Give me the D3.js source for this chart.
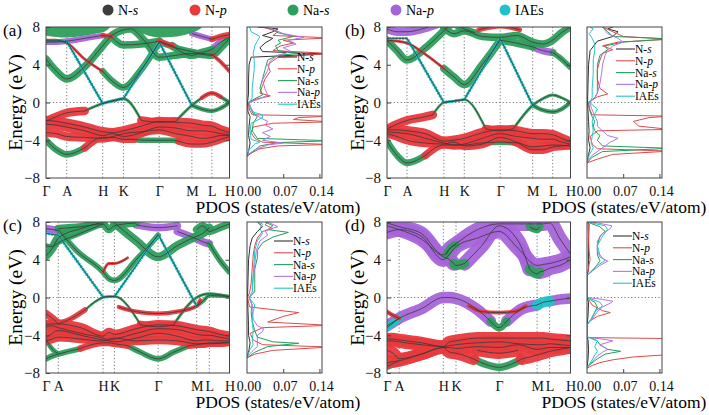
<!DOCTYPE html>
<html lang="en">
<head>
<meta charset="UTF-8">
<title>Band structures and PDOS</title>
<script src="https://cdnjs.cloudflare.com/ajax/libs/d3/7.8.5/d3.min.js"></script>
<style>
  body { margin: 0; background: #fff; }
  svg, svg text { font-family: "Liberation Serif"; font-weight: normal; }
</style>
</head>
<body>
<svg id="fig" width="709" height="415"></svg>
<script>
// orbital channels, in legend order
const orbitals = ['N-s', 'N-p', 'Na-s', 'Na-p', 'IAEs'];
const kLabels = ['Γ', 'A', 'H', 'K', 'Γ', 'M', 'L', 'H'];
const energyTicks = [8, 4, 0, -4, -8];
const pdosTicks = [0, 0.07, 0.14];

// high-symmetry points along the path (fraction of path length)
const kPathA = [0, 0.113, 0.309, 0.422, 0.617, 0.795, 0.904, 1];
const kPathB = [0, 0.109, 0.310, 0.421, 0.617, 0.794, 0.903, 1];
const kPathC = [0, 0.067, 0.311, 0.373, 0.611, 0.821, 0.890, 1];
const kPathD = [0, 0.066, 0.307, 0.376, 0.611, 0.818, 0.886, 1];

// band pieces: [orbital index, projection weight, [[k index, E (eV)], ...]]
const bandsA = [
  [4, 0.25, [[0,6.5],[1,6.5],[2,-0.1],[3,0.4],[4,6.4],[5,-0.3]]],
  [2, 0.45, [[5,-0.3],[5.5,-0.7],[6,-0.9],[6.5,-0.6],[7,0.0]]],
  [1, 0.9, [[0,-2.0],[0.5,-1.5],[1,-1.1],[1.5,-0.9]]],
  [2, 0.3, [[1.5,-0.9],[2,-0.1],[2.5,0.2],[3,0.4],[3.5,-1.9]]],
  [1, 0.9, [[3.5,-1.9],[4,-2.1],[4.5,-2.0]]],
  [2, 0.3, [[4.5,-2.0],[5,-0.3],[5.5,0.5]]],
  [1, 0.45, [[5.5,0.5],[6,1.0],[6.5,0.6]]],
  [2, 0.4, [[6.5,0.6],[7,0.0]]],
  [1, 1.0, [[0,-1.9],[0.5,-2.0],[1,-2.2],[1.5,-2.6],[2,-3.1],[2.5,-3.2],[3,-3.0],[3.5,-2.5],[4,-2.0],[4.5,-2.1],[5,-2.2],[5.5,-2.4],[6,-2.5],[6.5,-2.9],[7,-3.2]]],
  [1, 1.0, [[0,-2.3],[0.5,-2.4],[1,-2.6],[1.5,-3.0],[2,-3.5],[2.5,-3.3],[3,-3.6],[3.5,-3.2],[4,-2.6],[4.5,-2.7],[5,-3.0],[5.5,-3.0],[6,-3.1],[6.5,-3.3],[7,-3.4]]],
  [1, 0.9, [[0,-3.2],[0.5,-3.3],[1,-3.6],[1.5,-3.7],[2,-3.8],[2.5,-3.6],[3,-3.3],[3.5,-3.1],[4,-2.9],[4.5,-3.3],[5,-3.6],[5.5,-3.8],[6,-3.7],[6.5,-3.5],[7,-3.5]]],
  [2, 0.7, [[0,-4.0],[0.5,-5.0],[1,-5.5],[1.5,-4.8]]],
  [1, 0.8, [[1.5,-4.8],[2,-3.7],[2.5,-3.7],[3,-3.9],[3.3,-3.9]]],
  [2, 0.6, [[3.3,-3.9],[3.6,-4.0],[4,-4.0],[4.4,-4.0],[4.6,-4.1]]],
  [1, 0.8, [[4.6,-4.1],[5,-4.4],[5.5,-4.4],[6,-4.2],[6.5,-3.9],[7,-3.6]]],
  [2, 0.8, [[0,4.6],[0.5,3.3],[1,2.5],[1.5,3.8],[2,6.0],[2.5,7.2],[3.2,7.8],[3.6,6.5],[4,4.8],[4.5,5.0],[5,5.2],[5.5,5.1],[6,5.0],[6.5,5.8],[7,6.8]]],
  [1, 0.3, [[0,6.6],[0.5,6.6],[1,6.3],[1.5,4.6],[2,3.3]]],
  [2, 0.7, [[2,3.3],[2.5,2.2],[3,1.6],[3.5,3.5],[4,6.4]]],
  [2, 0.6, [[4,6.4],[4.5,5.8],[5,5.4],[5.5,5.2],[6,5.1]]],
  [1, 0.4, [[6,5.1],[6.5,4.3],[7,3.3]]],
  [3, 0.6, [[0,6.4],[0.5,6.4],[1,6.5],[1.5,6.8],[2,7.1]]],
  [1, 0.5, [[2,7.1],[2.4,7.0]]],
  [2, 0.8, [[2.4,7.0],[3,6.1],[3.5,6.2],[4,6.5]]],
  [1, 0.6, [[4,6.5],[4.4,6.0]]],
  [2, 0.8, [[4.4,6.0],[5,5.0],[5.5,5.3],[6,5.6]]],
  [3, 0.7, [[6,5.6],[6.5,6.4],[7,6.9]]],
  [3, 0.6, [[5,7.3],[5.5,7.0],[6,6.7]]],
  [1, 0.6, [[6,6.7],[6.5,7.0],[7,7.2]]],
  [2, 2.8, [[0,8.5],[0.9,8.3],[1.9,8.8]]],
  [2, 2.8, [[3.5,8.9],[4,8.3],[4.5,8.4],[5,8.9]]]
];

const bandsB = [
  [4, 0.3, [[0,6.8],[1,6.8],[2,0.0],[3,0.3],[4,6.8],[5,-0.3]]],
  [2, 0.45, [[5,-0.3],[5.5,-0.8],[6,-1.0],[6.5,-0.7],[7,0.0]]],
  [1, 0.9, [[0,-2.8],[0.5,-2.3],[1,-1.9],[1.5,-1.5],[1.7,-1.3]]],
  [2, 0.25, [[1.7,-1.3],[2,0.0],[2.5,0.15],[3,0.3],[3.6,-2.8]]],
  [1, 0.9, [[3.6,-2.8],[4,-3.0],[4.4,-2.8]]],
  [2, 0.3, [[4.4,-2.8],[5,-0.3],[5.5,0.4],[6,0.8],[6.5,0.5],[7,0.0]]],
  [1, 1.0, [[0,-2.9],[0.5,-2.9],[1,-3.0],[1.5,-3.3],[2,-4.1],[2.5,-4.0],[3,-3.8],[3.5,-3.2],[4,-2.9],[4.5,-3.0],[5,-3.3],[5.5,-3.3],[6,-3.4],[6.5,-3.8],[7,-4.2]]],
  [1, 1.0, [[0,-3.1],[0.5,-3.2],[1,-3.3],[1.5,-3.8],[2,-4.3],[2.5,-4.5],[3,-4.4],[3.5,-3.8],[4,-3.3],[4.5,-3.6],[5,-3.8],[5.5,-3.9],[6,-3.9],[6.5,-4.2],[7,-4.4]]],
  [1, 0.9, [[0,-3.3],[0.5,-3.6],[1,-4.0],[1.5,-4.3],[2,-4.4],[2.5,-4.2],[3,-4.6],[3.5,-4.4],[4,-3.7],[4.5,-4.2],[5,-5.0],[5.5,-5.0],[6,-4.7],[6.5,-4.6],[7,-4.5]]],
  [2, 0.7, [[0,-4.1],[0.5,-5.6],[1,-6.4],[1.5,-5.6]]],
  [1, 0.8, [[1.5,-5.6],[2,-4.5],[2.5,-4.5],[3,-4.5],[3.4,-4.3]]],
  [2, 0.6, [[3.4,-4.3],[4,-4.2],[4.6,-4.3]]],
  [1, 0.8, [[4.6,-4.3],[5,-4.7],[5.5,-4.6],[6,-4.5],[7,-4.6]]],
  [2, 0.8, [[0,6.6],[0.5,5.5],[1,4.5],[1.5,5.8],[2,7.6],[2.4,8.4]]],
  [1, 0.3, [[0,6.6],[0.5,6.5],[1,6.3],[1.5,5.1],[2,3.6]]],
  [2, 0.8, [[2,3.6],[2.5,2.7],[3,1.9],[3.5,4.0],[4,6.6]]],
  [2, 0.8, [[4,6.6],[4.5,6.3],[5,5.9]]],
  [3, 0.8, [[5,5.9],[5.5,5.5],[6,5.3]]],
  [2, 0.6, [[6,5.3],[6.5,4.6],[7,3.7]]],
  [3, 0.9, [[0,7.8],[0.5,7.5],[1,7.5],[1.5,7.9],[1.8,8.3]]],
  [2, 0.8, [[2,7.9],[2.5,7.3],[3,7.6],[3.5,7.0],[4,6.9],[4.5,7.1],[5,6.4],[5.5,6.2],[6,6.6],[6.5,7.4],[7,8.0]]],
  [1, 0.5, [[3.4,7.7],[4,8.1],[4.6,7.7]]],
  [2, 0.7, [[2.5,8.3],[3,7.8],[3.3,7.4]]]
];

const bandsC = [
  [4, 0.3, [[0,6.8],[1,6.6],[2,0.05],[3,0.1],[4,6.7],[5,-0.9]]],
  [2, 0.4, [[5,-0.9],[5.5,-0.4],[6,0.2],[7,0.1]]],
  [1, 0.8, [[0,-1.7],[0.5,-2.2],[1,-2.8]]],
  [1, 0.55, [[1,-2.8],[1.3,-2.2],[1.6,-1.3]]],
  [2, 0.25, [[1.6,-1.3],[2,0.0],[2.5,0.1],[3,0.1],[3.6,-2.9]]],
  [1, 0.9, [[3.6,-2.9],[4,-3.1],[4.4,-2.9]]],
  [2, 0.3, [[4.4,-2.9],[5,0.0],[5.5,0.3],[6,0.4],[6.5,0.3],[7,0.1]]],
  [1, 0.45, [[3.1,-1.0],[3.5,-1.5],[4,-1.7],[4.5,-1.5],[5,-0.9],[5.3,-0.3]]],
  [1, 1.0, [[0,-2.9],[0.5,-2.8],[1,-2.8],[1.5,-3.2],[2,-4.1],[2.5,-3.7],[3,-3.9],[3.5,-3.3],[4,-2.9],[4.5,-3.0],[5,-3.4],[5.5,-3.5],[6,-3.6],[6.5,-3.9],[7,-4.1]]],
  [1, 1.0, [[0,-3.1],[0.5,-3.0],[1,-3.2],[1.5,-3.8],[2,-4.3],[2.5,-4.5],[3,-4.4],[3.5,-3.8],[4,-3.3],[4.5,-3.4],[5,-3.9],[5.5,-4.0],[6,-4.0],[6.5,-4.2],[7,-4.4]]],
  [1, 1.0, [[0,-4.3],[0.5,-3.8],[1,-3.5],[1.5,-4.0],[2,-4.5],[2.5,-4.6],[3,-4.7],[3.5,-4.3],[4,-3.8],[4.5,-4.1],[5,-4.6],[5.5,-4.5],[6,-4.5],[6.5,-4.6],[7,-4.6]]],
  [1, 0.9, [[0,-4.6],[0.5,-4.4],[1,-4.2],[1.5,-4.4],[2,-4.6],[2.5,-4.4],[3,-4.3],[3.5,-4.6],[4,-4.5],[4.5,-4.6],[5,-4.9],[5.5,-4.9],[6,-4.8],[6.5,-4.8],[7,-4.7]]],
  [2, 0.6, [[0,-6.5],[0.5,-6.2],[1,-6.0],[1.5,-5.4]]],
  [1, 0.7, [[1.5,-5.4],[2,-4.8],[2.5,-4.8],[3,-4.9],[3.3,-5.1]]],
  [2, 0.6, [[3.3,-5.1],[3.6,-5.8],[4,-6.5],[4.4,-5.8],[4.8,-5.1]]],
  [1, 0.7, [[4.8,-5.1],[5,-5.0],[5.5,-4.9],[6,-4.9],[7,-4.8]]],
  [2, 0.5, [[0,-4.4],[0.4,-5.3],[0.8,-5.8],[1,-5.9]]],
  [2, 0.9, [[0,4.4],[0.5,5.2],[1,6.3],[1.5,7.3],[2,8.0]]],
  [2, 0.5, [[0,5.5],[0.5,5.4],[1,5.8],[1.5,6.8],[2,7.8]]],
  [2, 0.6, [[1,7.2],[1.4,5.0],[2,2.7],[2.5,2.0],[3,1.8],[3.5,4.0],[4,6.6]]],
  [1, 0.3, [[2,2.7],[2.5,3.6],[3,3.6],[3.3,4.2]]],
  [2, 0.9, [[3,7.9],[3.5,6.0],[4,4.3],[4.5,5.5],[5,6.5],[5.5,6.8],[6,7.4]]],
  [3, 0.8, [[4.5,7.0],[5,6.2],[5.5,5.9],[6,5.7]]],
  [2, 0.6, [[6,5.7],[6.5,4.0],[7,2.7]]],
  [2, 0.8, [[1,7.3],[1.5,7.5],[2,7.8],[2.5,7.2],[3,7.6],[3.5,7.9]]],
  [3, 0.8, [[0,7.3],[0.5,7.2],[1,7.1]]],
  [3, 0.8, [[3.5,7.7],[4,7.4],[4.5,7.6]]],
  [2, 0.8, [[5,7.2],[5.5,7.6],[6,7.0],[6.5,7.4],[7,7.8]]]
];

const bandsD = [
  [3, 1.2, [[0,-3.0],[0.5,-2.6],[1,-2.2],[1.5,-1.2],[2,0.0],[2.5,0.0],[3,-0.1],[3.5,-1.3],[3.8,-2.5]]],
  [2, 0.8, [[3.8,-2.5],[4,-3.2],[4.2,-2.5]]],
  [3, 1.2, [[4.2,-2.5],[4.6,-1.2],[5,-0.8]]],
  [4, 1.1, [[5,-0.8],[5.5,-0.5],[6,-0.4]]],
  [3, 1.1, [[6,-0.4],[6.5,-0.2],[7,-0.1]]],
  [1, 0.45, [[0,-1.5],[0.5,-1.9],[1,-2.2]]],
  [1, 0.4, [[3.3,-0.9],[3.6,-1.5],[4,-1.6],[4.4,-1.5],[4.7,-0.9]]],
  [4, 0.8, [[0,-3.2],[0.5,-2.7],[1,-2.2]]],
  [1, 1.3, [[0,-4.4],[0.5,-4.4],[1,-4.5],[1.5,-4.8],[2,-5.2],[2.5,-4.7],[3,-4.6],[3.5,-4.3],[4,-4.3],[4.5,-4.3],[5,-4.3],[5.5,-4.3],[6,-4.4],[6.5,-4.5],[7,-4.6]]],
  [1, 1.3, [[0,-4.6],[0.5,-4.6],[1,-4.7],[1.5,-5.0],[2,-5.2],[2.5,-5.1],[3,-5.0],[3.5,-4.8],[4,-4.7],[4.5,-4.9],[5,-5.0],[5.5,-5.0],[6,-4.9],[6.5,-5.0],[7,-5.1]]],
  [1, 1.3, [[0,-5.6],[0.5,-5.9],[1,-6.5],[1.5,-6.0],[2,-5.3],[2.5,-5.3],[3,-5.4],[3.5,-5.2],[4,-5.3],[4.5,-5.0],[5,-5.5],[5.5,-5.4],[6,-5.3],[6.5,-5.3],[7,-5.3]]],
  [1, 1.3, [[0,-6.9],[0.5,-6.8],[1,-6.7],[1.5,-6.0],[2,-5.3],[2.5,-5.8],[3,-5.9],[3.4,-6.5]]],
  [2, 0.8, [[3.4,-6.5],[3.7,-7.1],[4,-7.4],[4.3,-7.1],[4.6,-6.5]]],
  [1, 1.3, [[4.6,-6.5],[5,-6.1],[5.5,-5.9],[6,-5.7],[6.5,-5.5],[7,-5.3]]],
  [2, 0.8, [[0,-7.3],[0.5,-7.0],[1,-6.7]]],
  [1, 1.2, [[3.5,-5.6],[4,-5.9],[4.5,-5.6]]],
  [3, 1.5, [[0,7.6],[0.5,7.4],[1,7.2],[1.5,6.2],[2,4.3],[2.5,4.0],[2.8,3.6]]],
  [2, 1.0, [[2.8,3.6],[3,3.4],[3.2,3.6]]],
  [3, 1.5, [[3.2,3.6],[3.6,5.5],[4,7.6],[4.5,6.0],[4.8,3.0]]],
  [2, 1.0, [[4.8,3.0],[5,2.5],[5.2,2.7]]],
  [3, 1.5, [[5.2,2.7],[5.5,2.8],[6,3.1],[6.5,3.4],[7,4.0]]],
  [3, 1.5, [[0,6.9],[0.5,7.1],[1,7.2],[1.5,6.5],[2,4.0],[2.5,4.6],[3,5.4],[3.5,6.3],[4,7.0],[4.5,5.2],[5,3.4],[5.5,3.5],[6,3.6],[6.5,3.9],[7,4.3]]],
  [3, 1.5, [[0,7.9],[0.5,7.7],[1,7.5],[1.5,6.8],[2,4.5],[2.5,5.2],[3,5.7],[3.5,7.2],[4,7.8],[4.5,7.8],[5,7.8],[5.5,7.8],[6,7.9],[6.5,6.2],[7,4.6]]],
  [2, 0.8, [[2.2,4.5],[2.6,5.3],[3,5.6]]],
  [2, 0.8, [[4.8,7.5],[5,7.2],[5.2,7.5]]]
];

// PDOS curves per panel, in orbital order: [[E (eV), states/eV/atom], ...]
const pdosA = [
  [[-5.7,0],[-5.2,0.003],[-4.3,0.006],[-3.5,0.003],[-2.5,0.004],[-1.5,0.006],[-1,0.002],[0,0.001],[1,0.003],[2.5,0.003],[4,0.004],[4.8,0.008],[5.15,0.15],[5.4,0.03],[5.8,0.025],[6.3,0.035],[6.8,0.05],[7.1,0.03],[7.5,0.05],[7.8,0.06],[8,0.02]],
  [[-5.7,0],[-5.3,0.01],[-4.9,0.025],[-4.6,0.06],[-4.45,0.16],[-4.2,0.03],[-3.8,0.015],[-3.2,0.008],[-2.6,0.012],[-2.2,0.05],[-2.05,0.16],[-1.8,0.09],[-1.6,0.1],[-1.45,0.16],[-1.3,0.01],[-0.8,0.005],[0,0.002],[0.4,0.02],[0.7,0.045],[1.0,0.025],[1.8,0.03],[2.5,0.035],[3.3,0.045],[4,0.04],[4.8,0.06],[5.2,0.16],[5.5,0.05],[6,0.065],[6.3,0.09],[6.6,0.07],[6.85,0.16],[7.1,0.05],[7.5,0.06],[8,0.03]],
  [[-5.7,0],[-5.2,0.012],[-4.6,0.025],[-4.25,0.06],[-4.05,0.16],[-3.8,0.02],[-3,0.01],[-2.2,0.012],[-1.5,0.02],[-1.2,0.012],[-0.5,0.006],[0,0.003],[0.4,0.015],[0.8,0.03],[1.5,0.025],[2.5,0.03],[3.5,0.035],[4.5,0.04],[5,0.06],[5.2,0.1],[5.5,0.06],[6,0.055],[6.3,0.065],[6.6,0.06],[7.0,0.09],[7.4,0.06],[8,0.04]],
  [[-5.6,0],[-5,0.015],[-4.5,0.04],[-4.3,0.07],[-4.0,0.03],[-3.6,0.045],[-3.2,0.03],[-2.8,0.05],[-2.4,0.035],[-2.0,0.04],[-1.6,0.025],[-1.2,0.015],[-0.6,0.008],[0,0.004],[0.4,0.025],[0.8,0.04],[1.4,0.035],[2.4,0.03],[3.4,0.04],[4.4,0.045],[5,0.06],[5.4,0.085],[5.8,0.07],[6.2,0.095],[6.6,0.08],[6.9,0.11],[7.3,0.07],[8,0.04]],
  [[-5.6,0],[-5,0.004],[-4.4,0.015],[-4.2,0.025],[-3.9,0.008],[-3,0.006],[-2.2,0.008],[-1.6,0.03],[-1.3,0.03],[-1.0,0.01],[-0.5,0.006],[0,0.004],[0.5,0.01],[1.5,0.01],[2.5,0.012],[3.5,0.014],[4.5,0.014],[5.2,0.012],[6,0.015],[6.5,0.02],[7,0.025],[7.5,0.008],[8,0.005]]
];
const pdosB = [
  [[-6.4,0],[-5.5,0.003],[-4.8,0.006],[-4,0.003],[-3,0.004],[-2,0.003],[-1,0.002],[0,0.001],[2,0.002],[4,0.003],[5.5,0.006],[6.5,0.02],[7.0,0.05],[7.5,0.06],[7.8,0.04],[8,0.05]],
  [[-6.4,0],[-6,0.02],[-5.5,0.05],[-5.15,0.16],[-4.9,0.02],[-4.4,0.01],[-3.6,0.006],[-3.0,0.02],[-2.85,0.16],[-2.5,0.1],[-2.0,0.09],[-1.6,0.12],[-1.45,0.16],[-1.3,0.01],[-0.6,0.004],[0,0.002],[0.6,0.02],[0.9,0.04],[1.5,0.025],[2.5,0.02],[3.5,0.02],[4.5,0.025],[5.2,0.03],[5.6,0.05],[6.0,0.03],[6.4,0.06],[6.7,0.16],[7.0,0.07],[7.5,0.05],[8,0.03]],
  [[-6.4,0],[-5.8,0.01],[-5.2,0.03],[-4.85,0.16],[-4.6,0.03],[-4.0,0.02],[-3.5,0.025],[-3,0.015],[-2.5,0.012],[-2,0.015],[-1.5,0.01],[-1,0.006],[0,0.003],[0.5,0.015],[1,0.02],[2,0.02],[3,0.02],[4,0.02],[5,0.025],[5.6,0.04],[6.0,0.035],[6.4,0.07],[6.75,0.16],[7.0,0.05],[7.5,0.04],[8,0.03]],
  [[-6.3,0],[-5.6,0.01],[-5,0.025],[-4.6,0.035],[-4.2,0.045],[-3.8,0.06],[-3.5,0.04],[-3.0,0.03],[-2.5,0.02],[-2,0.02],[-1.4,0.015],[-0.8,0.01],[0,0.005],[0.5,0.015],[1,0.02],[2,0.025],[3,0.028],[4,0.03],[5,0.035],[5.5,0.04],[6.0,0.05],[6.4,0.07],[6.8,0.06],[7.3,0.04],[8,0.03]],
  [[-6.3,0],[-5.5,0.005],[-4.8,0.012],[-4.3,0.008],[-3.6,0.01],[-3,0.012],[-2,0.01],[-1.2,0.015],[-0.7,0.02],[0,0.005],[0.5,0.01],[1.5,0.01],[3,0.012],[4.5,0.012],[5.5,0.015],[6.2,0.015],[6.8,0.01],[7.3,0.004],[7.8,0.012],[8,0.006]]
];
const pdosC = [
  [[-6.4,0],[-5.5,0.004],[-4.8,0.006],[-4,0.003],[-3,0.003],[-1.5,0.002],[0,0.001],[2,0.002],[4,0.003],[5.5,0.006],[6.3,0.01],[7,0.02],[7.5,0.03],[8,0.02]],
  [[-6.4,0],[-6,0.015],[-5.6,0.05],[-5.25,0.16],[-5.0,0.03],[-4.5,0.012],[-3.8,0.006],[-3.2,0.03],[-2.95,0.16],[-2.6,0.04],[-2.0,0.07],[-1.6,0.1],[-1.35,0.06],[-1.0,0.005],[0,0.001],[0.5,0.005],[1.5,0.008],[3,0.01],[4.5,0.012],[5.5,0.015],[6.3,0.02],[7.0,0.03],[7.3,0.05],[7.7,0.035],[8,0.04]],
  [[-6.4,0],[-5.8,0.015],[-5.2,0.04],[-4.85,0.1],[-4.7,0.05],[-4.2,0.02],[-3.5,0.015],[-2.5,0.01],[-1.5,0.008],[-0.8,0.01],[0,0.004],[0.6,0.015],[1.5,0.015],[3,0.015],[4.2,0.02],[5,0.02],[5.8,0.03],[6.4,0.05],[6.9,0.08],[7.2,0.04],[7.6,0.05],[8,0.035]],
  [[-6.3,0],[-5.7,0.01],[-5.2,0.02],[-4.6,0.02],[-4,0.02],[-3.6,0.03],[-3.3,0.032],[-3.0,0.02],[-2.3,0.012],[-1.5,0.01],[-0.8,0.01],[0,0.004],[0.6,0.01],[2,0.012],[3.5,0.015],[5,0.018],[6,0.025],[6.6,0.04],[7.1,0.035],[7.5,0.06],[8,0.04]],
  [[-6.3,0],[-5.5,0.006],[-5,0.012],[-4.5,0.01],[-3.5,0.012],[-2.5,0.01],[-1.5,0.012],[-0.8,0.015],[0,0.004],[0.5,0.012],[1,0.01],[2.5,0.012],[4,0.014],[5,0.015],[6,0.02],[6.8,0.03],[7.3,0.025],[7.8,0.03],[8,0.02]]
];
const pdosD = [
  [[-7.5,0],[-6.5,0.002],[-5.5,0.003],[-4.5,0.002],[-4.2,0],[-2.9,0],[-2,0.002],[-0.5,0.003],[0,0],[2.3,0],[3,0.003],[4,0.003],[6,0.003],[7.8,0.004],[8,0]],
  [[-7.5,0],[-7.2,0.01],[-6.9,0.025],[-6.6,0.05],[-6.3,0.09],[-6.05,0.16],[-4.5,0.16],[-4.35,0.16],[-4.25,0],[-2.9,0],[-2.5,0.005],[-2.0,0.02],[-1.6,0.045],[-1.4,0.03],[-0.8,0.01],[-0.2,0.003],[0,0],[2.3,0],[2.8,0.002],[3.5,0.004],[4,0.006],[5,0.004],[6.5,0.003],[7.8,0.002],[8,0]],
  [[-7.4,0],[-7,0.008],[-6.5,0.02],[-6.0,0.035],[-5.7,0.065],[-5.5,0.04],[-5.0,0.025],[-4.6,0.02],[-4.3,0.01],[-4.2,0],[-2.9,0],[-2.3,0.008],[-1.6,0.015],[-1.0,0.02],[-0.5,0.015],[0,0],[2.3,0],[2.8,0.01],[3.5,0.02],[3.9,0.025],[4.5,0.02],[5.5,0.02],[6.5,0.025],[7.0,0.035],[7.5,0.025],[8,0]],
  [[-7.4,0],[-6.8,0.01],[-6.2,0.02],[-5.8,0.03],[-5.5,0.04],[-5.0,0.025],[-4.6,0.05],[-4.45,0.035],[-4.2,0],[-2.9,0],[-2.3,0.01],[-1.5,0.02],[-1.0,0.03],[-0.6,0.045],[-0.4,0.05],[-0.2,0.03],[0,0],[2.3,0],[2.8,0.01],[3.4,0.025],[3.85,0.04],[4.3,0.025],[5,0.02],[6,0.02],[6.8,0.03],[7.3,0.045],[7.6,0.048],[7.9,0.02],[8,0]],
  [[-7.4,0],[-6.8,0.008],[-6.2,0.014],[-5.7,0.02],[-5.2,0.015],[-4.6,0.02],[-4.2,0],[-2.9,0],[-2.3,0.008],[-1.5,0.015],[-0.9,0.03],[-0.5,0.025],[0,0],[2.3,0],[2.8,0.008],[3.4,0.02],[3.9,0.035],[4.5,0.025],[5.5,0.02],[6.5,0.03],[7.2,0.04],[7.6,0.035],[8,0]]
];

const serif = 'Liberation Serif';
const bandColors = ['#3d3d3d', '#e8393d', '#2e9e5c', '#a664da', '#1fc3c7'];
const pdosColors = ['#333333', '#dc4b4b', '#22a05a', '#b276e6', '#26c6c9'];
const drawOrder = [3, 4, 2, 1, 0];

const svg = d3.select('#fig').attr('font-family', serif);
const defs = svg.append('defs');
const widthScale = d3.scaleLinear().domain([0, 1]).range([0, 9.5]);

function orbLabel(sel, name) {
  const m = name.match(/^(N|Na)-(s|p)$/);
  if (m) {
    sel.append('tspan').text(m[1] + '-');
    sel.append('tspan').attr('font-style', 'italic').text(m[2]);
  } else {
    sel.text(name);
  }
}

function styleAxis(g, size) {
  g.attr('font-family', serif).attr('font-size', size);
  g.select('.domain').remove();
  g.selectAll('text').attr('font-family', serif).attr('font-size', size).attr('fill', '#111');
  g.selectAll('line').attr('stroke', '#444');
}

function drawPanel(p) {
  const y = d3.scaleLinear().domain([-8, 8]).range([p.y1, p.y0]);
  const kx = d3.scaleLinear().domain([0, 1]).range([p.bx0, p.bx1]);
  const x = d3.scaleLinear().domain(d3.range(kLabels.length)).range(p.kPath.map(kx));
  const px = d3.scaleLinear().domain([0, 0.145]).range([p.px0, p.px1]);
  const g = svg.append('g');

  defs.append('clipPath').attr('id', 'cb' + p.tag).append('rect')
    .attr('x', p.bx0).attr('y', p.y0).attr('width', p.bx1 - p.bx0).attr('height', p.y1 - p.y0);
  defs.append('clipPath').attr('id', 'cp' + p.tag).append('rect')
    .attr('x', p.px0).attr('y', p.y0).attr('width', p.px1 - p.px0).attr('height', p.y1 - p.y0);

  // dotted guides
  const guides = g.append('g').attr('stroke', '#555').attr('stroke-width', 0.8).attr('stroke-dasharray', '1.2,2.2');
  guides.selectAll('line.v').data(d3.range(1, kLabels.length - 1)).join('line')
    .attr('x1', d => x(d)).attr('x2', d => x(d)).attr('y1', p.y0).attr('y2', p.y1);
  guides.append('line').attr('x1', p.bx0).attr('x2', p.bx1).attr('y1', y(0)).attr('y2', y(0));
  guides.append('line').attr('x1', p.px0).attr('x2', p.px1).attr('y1', y(0)).attr('y2', y(0));

  // fat bands
  const smooth = d3.line().x(d => x(d[0])).y(d => y(d[1])).curve(d3.curveMonotoneX);
  const straight = d3.line().x(d => x(d[0])).y(d => y(d[1]));
  const isBead = d => d[0] === 4 && d[1] < 0.5;
  const pieces = p.bands.slice().sort((a, b) => drawOrder.indexOf(a[0]) - drawOrder.indexOf(b[0]));
  const bandG = g.append('g').attr('clip-path', `url(#cb${p.tag})`).attr('fill', 'none');
  bandG.selectAll('path.fat').data(pieces.filter(d => !isBead(d))).join('path')
    .attr('class', 'fat')
    .attr('d', d => smooth(d[2]))
    .attr('stroke', d => bandColors[d[0]])
    .attr('stroke-width', d => widthScale(d[1]))
    .attr('stroke-linecap', 'round').attr('stroke-linejoin', 'round')
    .attr('opacity', 0.95);
  bandG.selectAll('path.bead').data(pieces.filter(isBead)).join('path')
    .attr('class', 'bead')
    .attr('d', d => straight(d[2]))
    .attr('stroke', bandColors[4])
    .attr('stroke-width', 3.2)
    .attr('stroke-linecap', 'round')
    .attr('stroke-dasharray', '0.01,3.2');
  bandG.selectAll('path.thin').data(pieces).join('path')
    .attr('class', 'thin')
    .attr('d', d => isBead(d) ? straight(d[2]) : smooth(d[2]))
    .attr('stroke', '#3a3a3a')
    .attr('stroke-width', 0.8);

  // PDOS curves
  const pdosLine = d3.line().x(d => px(d[1])).y(d => y(d[0]));
  g.append('g').attr('clip-path', `url(#cp${p.tag})`).attr('fill', 'none')
    .selectAll('path').data(p.pdos).join('path')
    .attr('d', d => pdosLine(d))
    .attr('stroke', (d, i) => pdosColors[i])
    .attr('stroke-width', 1);

  // frames
  g.append('rect').attr('x', p.bx0).attr('y', p.y0).attr('width', p.bx1 - p.bx0).attr('height', p.y1 - p.y0)
    .attr('fill', 'none').attr('stroke', '#444').attr('stroke-width', 1);
  g.append('rect').attr('x', p.px0).attr('y', p.y0).attr('width', p.px1 - p.px0).attr('height', p.y1 - p.y0)
    .attr('fill', 'none').attr('stroke', '#444').attr('stroke-width', 1);

  // axes
  g.append('g').attr('transform', `translate(${p.bx0},0)`)
    .call(d3.axisLeft(y).tickValues(energyTicks).tickSize(-4).tickPadding(6).tickFormat(d3.format('d')))
    .call(a => styleAxis(a, 15));
  g.append('g').attr('transform', `translate(${p.bx1},0)`)
    .call(d3.axisRight(y).tickValues(energyTicks.slice(1, -1)).tickSize(-4).tickFormat(''))
    .call(a => styleAxis(a, 15));
  g.append('g').attr('transform', `translate(0,${p.y1})`)
    .call(d3.axisBottom(x).tickValues(d3.range(kLabels.length)).tickFormat(i => kLabels[i]).tickSize(0).tickPadding(8))
    .call(a => styleAxis(a, 14));
  g.append('g').attr('transform', `translate(1.5,${p.y1})`)
    .call(d3.axisBottom(px).tickValues(pdosTicks).tickFormat(d3.format('.2f')).tickSize(0).tickPadding(8))
    .call(a => styleAxis(a, 14));
  g.append('g').attr('transform', `translate(0,${p.y1})`)
    .call(d3.axisBottom(px).tickValues(pdosTicks.slice(1)).tickSize(-4).tickFormat(''))
    .call(a => styleAxis(a, 14));

  // labels
  g.append('text').attr('transform', `translate(${p.labelX},${(p.y0 + p.y1) / 2}) rotate(-90)`)
    .attr('text-anchor', 'middle').attr('dy', '0.35em').attr('font-size', 19.5).text('Energy (eV)');
  g.append('text').attr('x', p.labelX - 12).attr('y', p.y0 + 9).attr('font-size', 17).text(`(${p.tag})`);
  g.append('text').attr('x', p.pdosLabelX).attr('y', p.y1 + 35).attr('text-anchor', 'middle')
    .attr('font-size', 17.5).text('PDOS (states/eV/atom)');

  // PDOS legend
  const leg = g.append('g').selectAll('g').data(orbitals).join('g')
    .attr('transform', (d, i) => `translate(${p.legX},${p.legY + i * 11.8})`);
  leg.append('line').attr('x1', 0).attr('x2', 19).attr('stroke', (d, i) => pdosColors[i]).attr('stroke-width', 1.1);
  leg.append('text').attr('x', 19).attr('dy', '0.35em').attr('font-size', 11.5).each(function(d) { orbLabel(d3.select(this), d); });
}

drawPanel({ tag: 'a', bx0: 46, bx1: 229.5, y0: 27, y1: 178, px0: 247, px1: 322, kPath: kPathA, bands: bandsA, pdos: pdosA, labelX: 15, pdosLabelX: 278, legX: 278, legY: 57 });
drawPanel({ tag: 'b', bx0: 387, bx1: 570.5, y0: 27, y1: 178, px0: 587, px1: 662, kPath: kPathB, bands: bandsB, pdos: pdosB, labelX: 357, pdosLabelX: 624, legX: 616, legY: 49 });
drawPanel({ tag: 'c', bx0: 46, bx1: 229.5, y0: 222, y1: 373, px0: 247, px1: 322, kPath: kPathC, bands: bandsC, pdos: pdosC, labelX: 15, pdosLabelX: 278, legX: 274, legY: 241 });
drawPanel({ tag: 'd', bx0: 387, bx1: 570.5, y0: 222, y1: 373, px0: 587, px1: 662, kPath: kPathD, bands: bandsD, pdos: pdosD, labelX: 357, pdosLabelX: 624, legX: 613, legY: 236 });

// top legend
const legendX = [108, 195, 293, 396, 505];
const topLegend = svg.append('g').selectAll('g').data(orbitals).join('g')
  .attr('transform', (d, i) => `translate(${legendX[i]},10)`);
topLegend.append('circle').attr('r', 5.5).attr('fill', (d, i) => bandColors[i]);
topLegend.append('text').attr('x', 10).attr('dy', '0.35em').attr('font-size', 14).each(function(d) { orbLabel(d3.select(this), d); });
</script>
</body>
</html>
